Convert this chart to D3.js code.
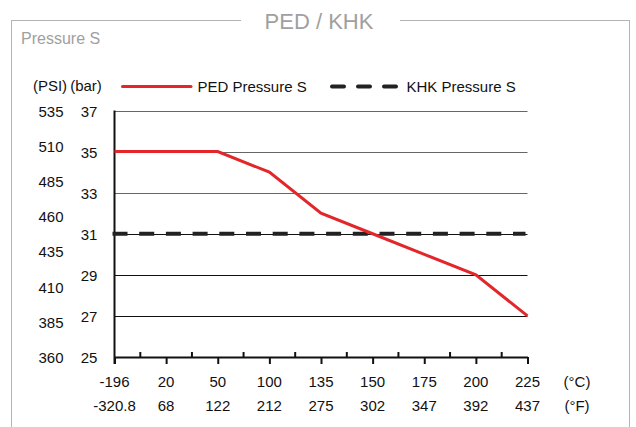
<!DOCTYPE html>
<html>
<head>
<meta charset="utf-8">
<script src="https://cdn.jsdelivr.net/npm/d3@7"></script>
<style>
  body { margin: 0; background: #fff; }
  svg { font-family: "Liberation Sans", Arial, sans-serif; }
</style>
</head>
<body>
<script>
// data
let tempC = ["-196", "20", "50", "100", "135", "150", "175", "200", "225"]
let tempF = ["-320.8", "68", "122", "212", "275", "302", "347", "392", "437"]
let pedPressure = [35, 35, 35, 34, 32, 31, 30, 29, 27]
let khkPressure = [31, 31, 31, 31, 31, 31, 31, 31, 31]
let barTicks = [25, 27, 29, 31, 33, 35, 37]
let psiTicks = [360, 385, 410, 435, 460, 485, 510, 535]

let width = 636
let height = 427

let plotLeft = 114.5
let plotRight = 527.5
let plotTop = 110.5
let plotBottom = 357

let svg = d3.select("body")
            .append("svg")
            .attr("width", width)
            .attr("height", height)

// outer frame with a gap for the title
svg.append("rect")
    .attr("x", 11.5)
    .attr("y", 20.5)
    .attr("width", 618)
    .attr("height", 420)
    .attr("fill", "none")
    .attr("stroke", "#b4b4b4")
    .attr("stroke-width", 1)

svg.append("rect")
    .attr("x", 241)
    .attr("y", 10)
    .attr("width", 159)
    .attr("height", 20)
    .attr("fill", "#fff")

svg.append("text")
    .attr("x", 319)
    .attr("y", 28.5)
    .attr("text-anchor", "middle")
    .attr("fill", "#a0a0a0")
    .style("font-size", "22px")
    .text("PED / KHK")

svg.append("text")
    .attr("x", 21)
    .attr("y", 43.5)
    .attr("fill", "#a0a0a0")
    .style("font-size", "16px")
    .text("Pressure S")

let xScale = d3.scalePoint()
                .domain(tempC)
                .range([plotLeft, plotRight])

let yScale = d3.scaleLinear()
                .domain([25, 37])
                .range([plotBottom, plotTop])

let psiScale = d3.scaleLinear()
                .domain([360, 535])
                .range([plotBottom, plotTop])

// gridlines
svg.append("g")
    .selectAll("line")
    .data(barTicks.filter(d => d > 25))
    .enter()
    .append("line")
    .attr("x1", plotLeft)
    .attr("x2", plotRight)
    .attr("y1", d => Math.round(yScale(d)) + 0.5)
    .attr("y2", d => Math.round(yScale(d)) + 0.5)
    .attr("stroke", d => d >= 33 ? "#666" : "#111")
    .attr("stroke-width", 1)

// bar labels
svg.append("g")
    .selectAll("text")
    .data(barTicks)
    .enter()
    .append("text")
    .attr("x", 89)
    .attr("y", d => yScale(d) + 6)
    .attr("text-anchor", "middle")
    .style("font-size", "15px")
    .attr("fill", "#111")
    .text(d => d)

// psi labels
svg.append("g")
    .selectAll("text")
    .data(psiTicks)
    .enter()
    .append("text")
    .attr("x", 51)
    .attr("y", d => psiScale(d) + 6)
    .attr("text-anchor", "middle")
    .style("font-size", "15px")
    .attr("fill", "#111")
    .text(d => d)

svg.append("text").attr("x", 50).attr("y", 91).attr("text-anchor", "middle")
    .style("font-size", "15px").attr("fill", "#111").text("(PSI)")
svg.append("text").attr("x", 86).attr("y", 91).attr("text-anchor", "middle")
    .style("font-size", "15px").attr("fill", "#111").text("(bar)")

// x axis
let xAxis = d3.axisBottom(xScale).tickSize(7).tickSizeOuter(0).tickFormat("")
let xg = svg.append("g")
    .attr("transform", "translate(0," + plotBottom + ")")
    .call(xAxis)
xg.select(".domain").attr("stroke", "#111").attr("stroke-width", 2)
xg.selectAll(".tick line").attr("stroke", "#111").attr("stroke-width", 2)

// minor ticks between categories
let mids = tempC.slice(1).map((d, i) => (xScale(tempC[i]) + xScale(d)) / 2)
svg.append("g")
    .selectAll("line")
    .data(mids)
    .enter()
    .append("line")
    .attr("x1", d => d)
    .attr("x2", d => d)
    .attr("y1", plotBottom - 5)
    .attr("y2", plotBottom)
    .attr("stroke", "#111")
    .attr("stroke-width", 2)

// y axis line
svg.append("line")
    .attr("x1", plotLeft)
    .attr("x2", plotLeft)
    .attr("y1", plotTop)
    .attr("y2", plotBottom + 7)
    .attr("stroke", "#111")
    .attr("stroke-width", 2)

// x labels
svg.append("g")
    .selectAll("text")
    .data(tempC)
    .enter()
    .append("text")
    .attr("x", d => xScale(d))
    .attr("y", 387)
    .attr("text-anchor", "middle")
    .style("font-size", "15px")
    .attr("fill", "#111")
    .text(d => d)

svg.append("g")
    .selectAll("text")
    .data(tempF)
    .enter()
    .append("text")
    .attr("x", (d, i) => xScale(tempC[i]))
    .attr("y", 411)
    .attr("text-anchor", "middle")
    .style("font-size", "15px")
    .attr("fill", "#111")
    .text(d => d)

svg.append("text").attr("x", 577).attr("y", 387).attr("text-anchor", "middle")
    .style("font-size", "15px").attr("fill", "#111").text("(°C)")
svg.append("text").attr("x", 577).attr("y", 411).attr("text-anchor", "middle")
    .style("font-size", "15px").attr("fill", "#111").text("(°F)")

// series
let line = d3.line()
    .x((d, i) => xScale(tempC[i]))
    .y(d => yScale(d))

svg.append("path")
    .datum(khkPressure)
    .attr("d", line)
    .attr("fill", "none")
    .attr("stroke", "#222")
    .attr("stroke-width", 4)
    .attr("stroke-dasharray", "15,11.7")
    .attr("transform", "translate(-2,0)")

svg.append("path")
    .datum(pedPressure)
    .attr("d", line)
    .attr("fill", "none")
    .attr("stroke", "#e3262a")
    .attr("stroke-width", 3)

// legend
svg.append("line")
    .attr("x1", 122.5).attr("x2", 191).attr("y1", 86.5).attr("y2", 86.5)
    .attr("stroke", "#e3262a").attr("stroke-width", 3).attr("stroke-linecap", "round")
svg.append("text").attr("x", 197.5).attr("y", 92)
    .style("font-size", "15px").attr("fill", "#111").text("PED Pressure S")

svg.append("line")
    .attr("x1", 332).attr("x2", 399).attr("y1", 86.5).attr("y2", 86.5)
    .attr("stroke", "#222").attr("stroke-width", 4)
    .attr("stroke-dasharray", "12,14").attr("stroke-linecap", "round")
svg.append("text").attr("x", 406.5).attr("y", 92)
    .style("font-size", "15px").attr("fill", "#111").text("KHK Pressure S")
</script>
</body>
</html>
